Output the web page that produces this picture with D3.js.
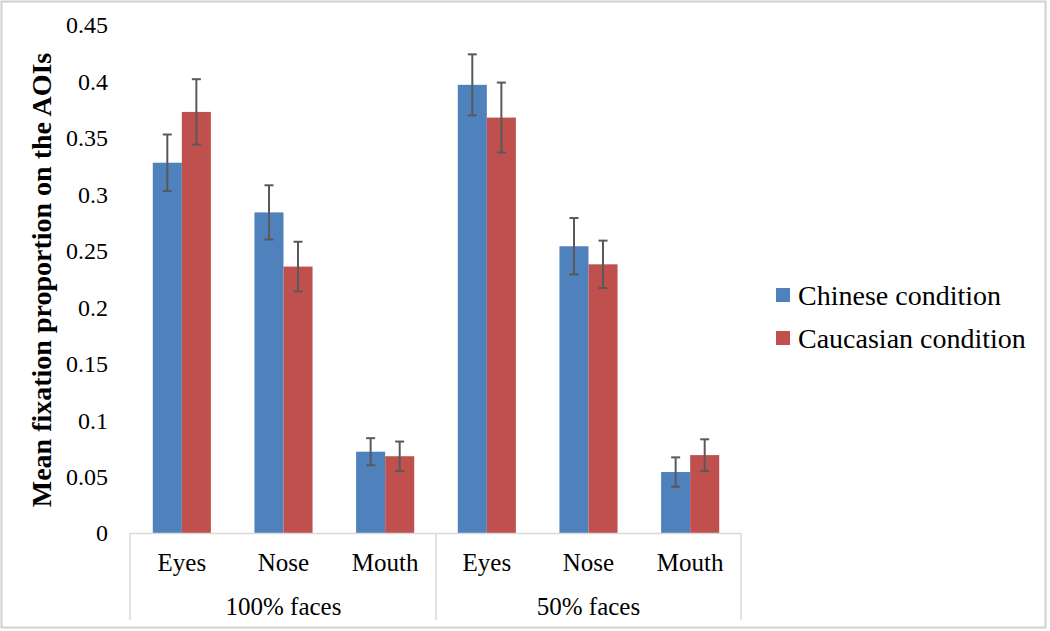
<!DOCTYPE html>
<html><head><meta charset="utf-8">
<script src="https://cdn.jsdelivr.net/npm/d3@7"></script>
<style>html,body{margin:0;padding:0;background:#fff;}</style>
</head><body>
<svg id="chart" width="1050" height="631"></svg>
<script>
const groups = ["100% faces", "50% faces"];
const parts = ["Eyes", "Nose", "Mouth"];
const seriesNames = ["Chinese condition", "Caucasian condition"];
const chineseValues = [0.328, 0.284, 0.072, 0.397, 0.254, 0.054];
const caucasianValues = [0.373, 0.236, 0.068, 0.368, 0.238, 0.069];
const chineseErrors = [0.025, 0.024, 0.012, 0.027, 0.025, 0.013];
const caucasianErrors = [0.029, 0.022, 0.013, 0.031, 0.021, 0.014];
const yTicks = [0, 0.05, 0.1, 0.15, 0.2, 0.25, 0.3, 0.35, 0.4, 0.45];
const colors = ["#4F81BD", "#C0504D"];

(function(){
const svg = d3.select("#chart");
const font = "'Liberation Serif','Times New Roman',serif";

// frame
svg.append("rect").attr("x",1.5).attr("y",1.5).attr("width",1044).attr("height",626)
  .attr("fill","none").attr("stroke","#d0d0d0").attr("stroke-width",2);

const pLeft = 131, pRight = 741, pTop = 25, pBottom = 533;
const cats = [];
groups.forEach(g => parts.forEach(p => cats.push(g + "|" + p)));

const x = d3.scaleBand().domain(cats).range([pLeft, pRight]).paddingInner(0).paddingOuter(0);
const inner = d3.scaleBand().domain([0,1]).range([0, x.bandwidth()]).paddingInner(0).paddingOuter(0.75);
const y = d3.scaleLinear().domain([0, 0.45]).range([pBottom, pTop]);

// y tick labels
const yAxis = d3.axisLeft(y).tickValues(yTicks).tickSize(0).tickPadding(0)
  .tickFormat(d => d === 0 ? "0" : String(+d.toFixed(2)));
const ya = svg.append("g").attr("transform", `translate(108,0)`).call(yAxis);
ya.select(".domain").remove();
ya.selectAll("text").attr("font-family", font).attr("font-size", 24).attr("fill", "#000").attr("dy","0.33em");

// y title
svg.append("text").attr("transform", `translate(51,280) rotate(-90)`)
  .attr("text-anchor","middle").attr("font-family", font).attr("font-weight","bold")
  .attr("font-size", 28).attr("fill","#000").text("Mean fixation proportion on the AOIs");

// bars
const series = [chineseValues, caucasianValues];
const errs = [chineseErrors, caucasianErrors];
series.forEach((vals, si) => {
  svg.append("g").selectAll("rect").data(vals).join("rect")
    .attr("x", (d,i) => x(cats[i]) + inner(si))
    .attr("width", inner.bandwidth())
    .attr("y", d => y(d))
    .attr("height", d => y(0) - y(d))
    .attr("fill", colors[si]);
});
// error bars
series.forEach((vals, si) => {
  const g = svg.append("g").attr("stroke","#595959").attr("stroke-width",2);
  vals.forEach((v,i) => {
    const cx = x(cats[i]) + inner(si) + inner.bandwidth()/2;
    const e = errs[si][i];
    g.append("line").attr("x1",cx).attr("x2",cx).attr("y1",y(v+e)).attr("y2",y(v-e));
    g.append("line").attr("x1",cx-4.5).attr("x2",cx+4.5).attr("y1",y(v+e)).attr("y2",y(v+e));
    g.append("line").attr("x1",cx-4.5).attr("x2",cx+4.5).attr("y1",y(v-e)).attr("y2",y(v-e));
  });
});

// x axis line and separators
const axisColor = "#d9d9d9";
svg.append("line").attr("x1",pLeft-1).attr("x2",pRight).attr("y1",pBottom+0.5).attr("y2",pBottom+0.5)
  .attr("stroke",axisColor).attr("stroke-width",1.5);
[pLeft-1, x(cats[3]), pRight].forEach(sx => {
  svg.append("line").attr("x1",sx).attr("x2",sx).attr("y1",pBottom).attr("y2",620)
    .attr("stroke",axisColor).attr("stroke-width",1.5);
});

// category labels
svg.append("g").selectAll("text").data(cats).join("text")
  .attr("x", d => x(d) + x.bandwidth()/2).attr("y", 562).attr("dy","0.35em")
  .attr("text-anchor","middle").attr("font-family", font).attr("font-size", 25).attr("fill","#000")
  .text(d => d.split("|")[1]);
// group labels
svg.append("g").selectAll("text").data(groups).join("text")
  .attr("x", (d,gi) => (x(cats[gi*3]) + x(cats[gi*3+2]) + x.bandwidth())/2).attr("y", 606).attr("dy","0.35em")
  .attr("text-anchor","middle").attr("font-family", font).attr("font-size", 25).attr("fill","#000")
  .text(d => d);

// legend
const lg = svg.append("g");
seriesNames.forEach((n, i) => {
  const cy = 295 + i*43;
  lg.append("rect").attr("x",776).attr("y",cy-7).attr("width",14).attr("height",14).attr("fill",colors[i]);
  lg.append("text").attr("x",798).attr("y",cy).attr("dy","0.35em").attr("font-family", font)
    .attr("font-size", 28).attr("fill","#000").text(n);
});
})();
</script>
</body></html>
